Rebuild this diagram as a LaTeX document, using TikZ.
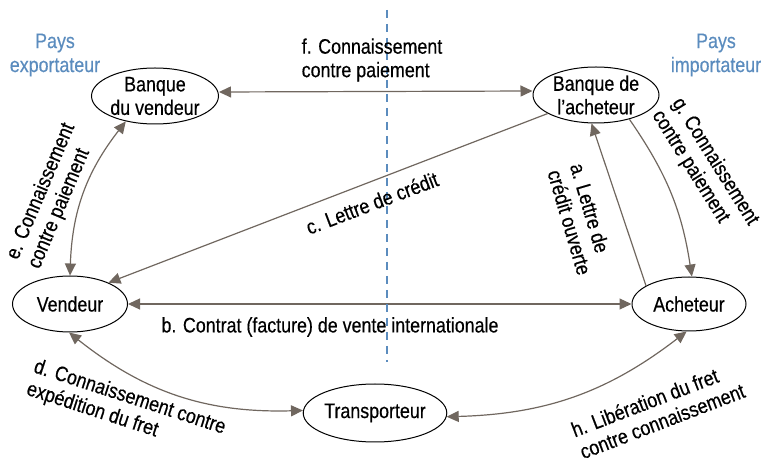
\documentclass[tikz,border=0pt]{standalone}
\usepackage{fontspec}
\setmainfont{Liberation Sans}[FakeStretch=0.85,FakeBold=0.4]
\usetikzlibrary{shapes.geometric,arrows.meta}
\definecolor{arrowgray}{RGB}{112,103,95}
\definecolor{paysblue}{RGB}{91,140,190}
\begin{document}
\begin{tikzpicture}[x=1pt,y=1pt,
  party/.style={ellipse,draw=black,line width=1pt,inner sep=0pt,align=center,
    font=\fontsize{21}{23.5}\selectfont},
  flow/.style={draw=arrowgray,line width=1.2pt,
    arrows={Triangle[length=12pt,width=11pt,fill=arrowgray]-Triangle[length=12pt,width=11pt,fill=arrowgray]}},
  flowend/.style={draw=arrowgray,line width=1.2pt,
    arrows={-Triangle[length=12pt,width=11pt,fill=arrowgray]}},
  lbl/.style={align=left,inner sep=0pt,font=\fontsize{21}{23.5}\selectfont},
  pays/.style={align=center,inner sep=0pt,text=paysblue,font=\fontsize{21}{24}\selectfont},
  border/.style={draw=paysblue,line width=2.6pt,dash pattern=on 8pt off 6pt}]
\useasboundingbox (0,0) rectangle (764,461);

% parties
\node[party,minimum width=127pt,minimum height=56pt] (bv) at (155,365) {Banque\\du vendeur};
\node[party,minimum width=126pt,minimum height=56pt] (ba) at (596,366) {Banque de\\l’acheteur};
\node[party,minimum width=115pt,minimum height=56pt] (v) at (70,157) {Vendeur};
\node[party,minimum width=114pt,minimum height=54pt] (a) at (689,157) {Acheteur};
\node[party,minimum width=133pt,minimum height=58pt] (t) at (375,48) {Transporteur};

% country labels
\node[pays] (pexp) at (55,406) {Pays\\exportateur};
\node[pays] (pimp) at (716,406) {Pays\\importateur};

% flows
\draw[flow] ([yshift=4pt]bv.east) -- ([yshift=4pt]ba.west);
\draw[flowend] (ba.-159) -- (v.29);
\draw[flow] (v.east) -- (a.west);
\draw[flowend] (a.157) -- (ba.-99);
\draw[flowend] (ba.-36) to[bend left=13] (a.84);
\draw[flow] (bv.-139) to[bend right=18] (v.90);
\draw[flow] (v.-92) to[bend right=20] (t.178);
\draw[flow] (t.-3) to[bend right=18] (a.-95);

% frontier between the two countries
\coordinate (dtop) at (387,451);
\coordinate (dbot) at (387,99);
\draw[border] (dtop) -- (dbot);

% flow labels
\node[lbl] (lf) at (372,401) {f. Connaissement\\contre paiement};
\node[lbl,rotate=20.8] (lc) at (372,258) {c. Lettre de crédit};
\node[lbl] (lb) at (330,134) {b. Contrat (facture) de vente internationale};
\node[lbl,rotate=-73.6] (la) at (581,242) {a. Lettre de\\crédit ouverte};
\node[lbl,rotate=-58] (lg) at (705,293) {g. Connaissement\\contre paiement};
\node[lbl,rotate=67] (le) at (52,265) {e. Connaissement\\contre paiement};
\node[lbl,rotate=-18] (ld) at (126,52) {d. Connaissement contre\\expédition du fret};
\node[lbl,rotate=21] (lh) at (658,51) {h. Libération du fret\\contre connaissement};
\end{tikzpicture}
\end{document}
